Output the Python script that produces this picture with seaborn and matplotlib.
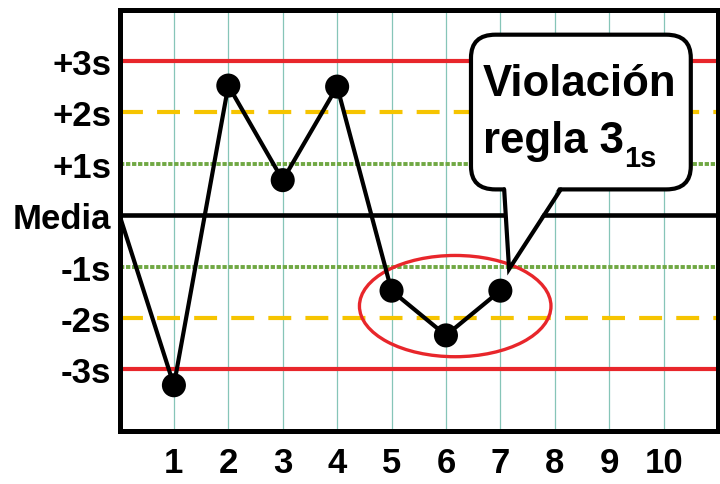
import matplotlib.pyplot as plt
import seaborn as sns
from matplotlib.patches import Ellipse, FancyBboxPatch, Polygon

# control levels (in units of s) and their labels
levels = [3, 2, 1, 0, -1, -2, -3]
level_labels = ['+3s', '+2s', '+1s', 'Media', '-1s', '-2s', '-3s']

# control run: line starts at the mean on the left edge
run_x = [0, 1, 2, 3, 4, 5, 6, 7]
run_z = [0, -3.31, 2.52, 0.68, 2.50, -1.47, -2.34, -1.47]
point_x = run_x[1:]
point_z = run_z[1:]

run_ticks = [1, 2, 3, 4, 5, 6, 7, 8, 9, 10]

sns.set_style('white')
plt.rcParams['font.family'] = ['Liberation Sans', 'DejaVu Sans']
plt.rcParams['font.weight'] = 'bold'
plt.rcParams['text.color'] = 'black'
plt.rcParams['xtick.color'] = 'black'
plt.rcParams['ytick.color'] = 'black'

fig = plt.figure(figsize=(7.2, 4.85), dpi=100)
ax = fig.add_axes([119.5 / 720, 1 - 432 / 485, (718 - 119.5) / 720, (432 - 10.5) / 485])
ax.set_xlim(0, 11)
ax.set_ylim(-4.2, 4.0)

# vertical grid
for x in run_ticks:
    ax.axvline(x, color='#86c5b8', lw=0.9, zorder=1)

# control limit lines
styles = {3: dict(color='#e8262b', lw=3, ls='-'),
          2: dict(color='#f6c400', lw=3, ls=(0, (5.5, 3.4))),
          1: dict(color='#70a843', lw=2.8, ls=(0, (1.1, 0.45))),
          0: dict(color='black', lw=3.3, ls='-')}
for lev in levels:
    ax.axhline(lev, zorder=2, **styles[abs(lev)])

# data
sns.lineplot(x=run_x, y=run_z, color='black', lw=3, sort=False, ax=ax, zorder=4)
sns.scatterplot(x=point_x, y=point_z, color='black', s=300, edgecolor='none',
                ax=ax, zorder=5)

# highlight of the violating points
ax.add_patch(Ellipse((6.17, -1.77), width=3.52, height=1.97, fill=False,
                     edgecolor='#e8262b', lw=2.4, zorder=3))

# callout
box = FancyBboxPatch((6.46, 0.50), 10.50 - 6.46, 3.51 - 0.50,
                     boxstyle='round,pad=0,rounding_size=0.45',
                     facecolor='white', edgecolor='black', lw=3, zorder=6)
ax.add_patch(box)
tail = [(7.07, 0.50), (7.16, -1.05), (8.11, 0.50)]
ax.add_patch(Polygon([(7.09, 0.58), (7.16, -1.05), (8.09, 0.58)], closed=True,
                     facecolor='white', edgecolor='none', zorder=7))
ax.plot([tail[0][0], tail[1][0], tail[2][0]], [tail[0][1], tail[1][1], tail[2][1]],
        color='black', lw=3, zorder=8, solid_joinstyle='miter')
ax.text(6.68, 2.34, 'Violación', fontsize=31.5, fontweight='bold', ha='left',
        va='baseline', zorder=9)
ax.text(6.68, 1.22, 'regla 3', fontsize=31.5, fontweight='bold', ha='left',
        va='baseline', zorder=9)
ax.text(9.27, 0.95, '1s', fontsize=21, fontweight='bold', ha='left',
        va='baseline', zorder=9)

# axes
ax.set_yticks(levels)
ax.set_yticklabels(level_labels, fontsize=25, fontweight='bold')
ax.set_xticks(run_ticks)
ax.set_xticklabels([str(t) for t in run_ticks], fontsize=25, fontweight='bold')
ax.tick_params(axis='y', length=0, pad=6)
ax.tick_params(axis='x', length=0, pad=11)
for sp in ax.spines.values():
    sp.set_visible(True)
    sp.set_color('black')
    sp.set_linewidth(3.6)
    sp.set_zorder(10)

fig.savefig('out.png', dpi=100)
